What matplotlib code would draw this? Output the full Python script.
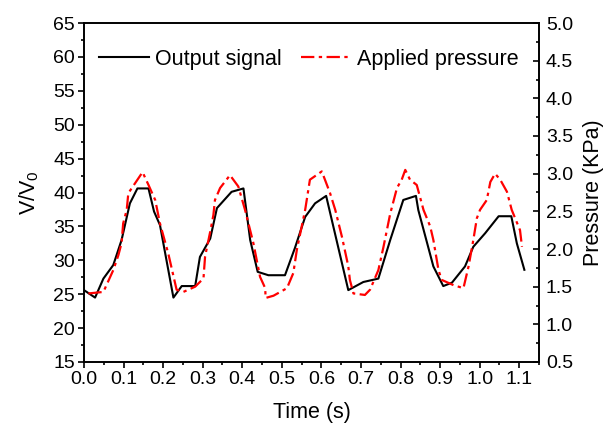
import matplotlib
matplotlib.use("Agg")
import matplotlib.pyplot as plt
from matplotlib.ticker import MultipleLocator

plt.rcParams['font.family'] = ['Liberation Sans', 'DejaVu Sans']
plt.rcParams['mathtext.fontset'] = 'custom'
plt.rcParams['mathtext.rm'] = 'Liberation Sans'
plt.rcParams['mathtext.it'] = 'Liberation Sans'

# Output signal (V/V0)
t_out = [0.0, 0.028, 0.049, 0.074, 0.095, 0.116, 0.135, 0.163, 0.177, 0.192,
         0.226, 0.247, 0.281, 0.293, 0.319, 0.336, 0.373, 0.403, 0.420, 0.439,
         0.466, 0.508, 0.533, 0.559, 0.584, 0.612, 0.668, 0.706, 0.744, 0.774,
         0.807, 0.839, 0.845, 0.883, 0.908, 0.930, 0.963, 0.984, 1.014, 1.048,
         1.080, 1.094, 1.113]
v_out = [25.6, 24.5, 27.3, 29.3, 33.0, 38.4, 40.6, 40.6, 37.2, 35.2,
         24.5, 26.2, 26.2, 30.5, 33.2, 37.7, 40.1, 40.6, 33.0, 28.3,
         27.8, 27.8, 31.8, 36.4, 38.4, 39.5, 25.6, 26.8, 27.3, 33.0,
         38.9, 39.5, 37.4, 29.1, 26.2, 26.7, 29.1, 32.0, 34.0, 36.5,
         36.5, 32.5, 28.6]

# Applied pressure (KPa)
t_p = [0.011, 0.049, 0.074, 0.087, 0.095, 0.099, 0.108, 0.112, 0.148, 0.163,
       0.180, 0.192, 0.213, 0.234, 0.251, 0.281, 0.302, 0.306, 0.319, 0.327,
       0.331, 0.344, 0.369, 0.390, 0.407, 0.428, 0.445, 0.458, 0.459, 0.479,
       0.513, 0.529, 0.538, 0.559, 0.571, 0.601, 0.609, 0.622, 0.635, 0.652,
       0.668, 0.672, 0.681, 0.710, 0.723, 0.744, 0.757, 0.774, 0.791, 0.803,
       0.812, 0.824, 0.841, 0.858, 0.875, 0.883, 0.896, 0.904, 0.934, 0.959,
       0.972, 0.984, 0.993, 1.001, 1.018, 1.027, 1.039, 1.052, 1.069, 1.081,
       1.102, 1.107]
p_val = [1.41, 1.43, 1.72, 1.92, 2.08, 2.34, 2.52, 2.74, 3.02, 2.85,
         2.65, 2.34, 1.94, 1.46, 1.43, 1.50, 1.61, 1.90, 2.23, 2.45,
         2.65, 2.81, 2.98, 2.83, 2.52, 2.08, 1.63, 1.48, 1.35, 1.38,
         1.48, 1.68, 1.99, 2.52, 2.92, 3.03, 2.92, 2.74, 2.52, 2.16,
         1.77, 1.59, 1.41, 1.39, 1.46, 1.72, 2.03, 2.47, 2.81, 2.92,
         3.05, 2.92, 2.85, 2.52, 2.30, 2.12, 1.72, 1.59, 1.52, 1.48,
         1.77, 2.12, 2.41, 2.52, 2.65, 2.89, 3.00, 2.92, 2.76, 2.52,
         2.25, 2.03]

x_ticks = [0.0, 0.1, 0.2, 0.3, 0.4, 0.5, 0.6, 0.7, 0.8, 0.9, 1.0, 1.1]

TICK_FS = 14
LABEL_FS = 15.5

fig = plt.figure(figsize=(6.06, 4.33), dpi=100)
ax = fig.add_axes([84/606, 1-362/433, (539-84)/606, (362-23)/433])
ax2 = ax.twinx()

l1, = ax.plot(t_out, v_out, color='black', lw=1.5, label='Output signal')
l2, = ax2.plot(t_p, p_val, color='red', lw=1.6, dashes=[6, 2, 1.5, 2],
               label='Applied pressure')

ax.set_xlim(0, 1.15)
ax.set_ylim(15, 65)
ax2.set_ylim(0.5, 5.0)
ax.set_xticks(x_ticks)
ax.set_xticklabels([f"{v:.1f}" for v in x_ticks])
ax.xaxis.set_minor_locator(MultipleLocator(0.05))
ax.yaxis.set_major_locator(MultipleLocator(5))
ax.yaxis.set_minor_locator(MultipleLocator(2.5))
ax2.yaxis.set_major_locator(MultipleLocator(0.5))
ax2.yaxis.set_minor_locator(MultipleLocator(0.25))
ax2.yaxis.set_major_formatter(plt.FormatStrFormatter('%.1f'))

for a in (ax, ax2):
    for s in a.spines.values():
        s.set_linewidth(1.2)

ax.tick_params(axis='both', which='major', direction='out', length=4.5, width=1.2,
               labelsize=TICK_FS, pad=2, top=False)
ax.tick_params(axis='both', which='minor', direction='out', length=2.5, width=1.2, top=False)
ax.tick_params(axis='y', right=False, which='both')
ax2.tick_params(axis='y', which='major', direction='in', length=4.5, width=1.2,
                labelsize=TICK_FS, pad=5)
ax2.tick_params(axis='y', which='minor', direction='in', length=2.5, width=1.2)

ax.set_xlabel('Time (s)', fontsize=LABEL_FS, labelpad=10)
ax.set_ylabel('V/V$_0$', fontsize=LABEL_FS, labelpad=9)
ax2.set_ylabel('Pressure (KPa)', fontsize=LABEL_FS, labelpad=7)

leg = ax.legend([l1, l2], ['Output signal', 'Applied pressure'], ncol=2,
                loc='upper left', bbox_to_anchor=(0.0, 0.968), frameon=False,
                fontsize=LABEL_FS, handlelength=2.3, handletextpad=0.3,
                columnspacing=0.9, borderaxespad=0.3)

fig.savefig('out.png', dpi=100)
